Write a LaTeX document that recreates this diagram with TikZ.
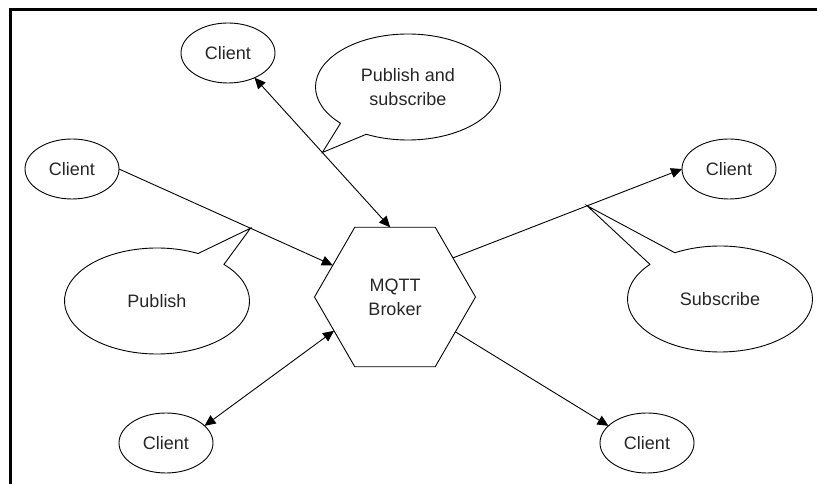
\documentclass[tikz,border=0pt]{standalone}
\usepackage{fontspec}
\setmainfont{Liberation Sans}
\usetikzlibrary{shapes.geometric,shapes.callouts,arrows.meta}

\begin{document}
\begin{tikzpicture}[x=1pt, y=1pt, font=\fontsize{18}{24}\selectfont, client/.style={draw, ellipse, line width=0.9pt, text=black!85, minimum width=94pt, minimum height=60pt, inner sep=0pt, outer sep=0pt}, note/.style={draw, ellipse callout, line width=0.9pt, text=black!85, callout pointer arc=20, minimum width=185pt, minimum height=106pt, align=center, inner sep=0pt, outer sep=0pt}, arrow/.style={-{Triangle[length=11pt,width=10pt]}, line width=0.9pt}, twoway/.style={{Triangle[length=11pt,width=10pt]}-{Triangle[length=11pt,width=10pt]}, line width=0.9pt}]
\useasboundingbox (0,0) rectangle (817,484);
\draw[line width=3pt] (817,474) -- (10,474) -- (10,0);
\node[draw, regular polygon, regular polygon sides=6, minimum size=161pt, inner sep=0pt, outer sep=0pt, line width=0.9pt, text=black!85, align=center](broker) at (395,187){MQTT\\Broker};
\node[client](c1) at (228,431){Client};
\node[client](c2) at (72,315){Client};
\node[client](c3) at (729,315){Client};
\node[client](c4) at (166,41){Client};
\node[client](c5) at (647,41){Client};
\draw[twoway] (c1.-43) -- (broker.94) coordinate[pos=0.5](tipboth);
\draw[arrow] (c2.east) -- (broker.153) coordinate[pos=0.615](tippub);
\draw[arrow] (broker.34) -- (c3.west) coordinate[pos=0.586](tipsub);
\draw[twoway] (c4.24) -- (broker.209);
\draw[arrow] (broker.-30) -- (c5.156);
\node[note, callout absolute pointer={(tipboth)}](pubsub) at (408,397){Publish and\\subscribe};
\node[note, callout absolute pointer={(tippub)}](pub) at (157,183){Publish};
\node[note, callout absolute pointer={(tipsub)}](sub) at (720,185){Subscribe};
\end{tikzpicture}
\end{document}
